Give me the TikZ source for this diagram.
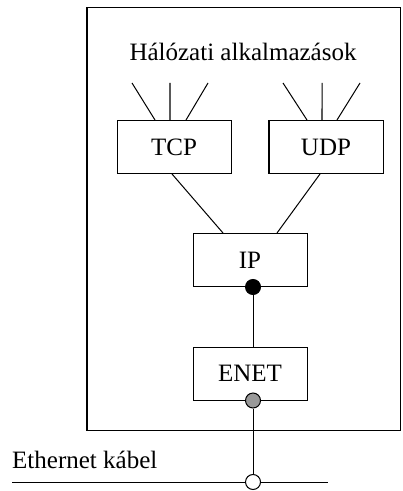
\documentclass[tikz,border=0pt]{standalone}
\usepackage{fontspec}
\setmainfont{Liberation Serif}
\newlength{\du}
\setlength{\du}{15\unitlength}

\begin{document}
\begin{tikzpicture}[
  layerbox/.style={draw, line width=0.067\du, fill=white, inner sep=0pt,
    minimum width=7.6\du, minimum height=3.533\du},
  portdot/.style={circle, draw, line width=0.067\du, inner sep=0pt, minimum size=1\du},
  wire/.style={line width=0.067\du},
  every node/.style={font=\fontsize{25}{30}\selectfont}]
\pgftransformxscale{1.000000}
\pgftransformyscale{-1.000000}
\definecolor{dotgrey}{rgb}{0.600000, 0.600000, 0.600000}
\useasboundingbox (0.000000\du,0.000000\du) rectangle (26.800000\du,32.733000\du);
% host frame
\draw[wire] (5.800000\du,0.467000\du) rectangle (26.700000\du,28.667000\du);
\node[anchor=base] (apps) at (16.200000\du,4.000000\du){Hálózati alkalmazások};
% protocol layers
\node[layerbox] (tcp) at (11.600000\du,9.800000\du){TCP};
\node[layerbox] (udp) at (21.733000\du,9.800000\du){UDP};
\node[layerbox] (ip) at (16.667000\du,17.333000\du){IP};
\node[layerbox] (enet) at (16.667000\du,24.900000\du){ENET};
% application fan-in
\coordinate (tcpa) at (8.800000\du,5.533000\du);
\coordinate (tcpb) at (11.333000\du,5.533000\du);
\coordinate (tcpc) at (13.867000\du,5.533000\du);
\coordinate (udpa) at (18.867000\du,5.533000\du);
\coordinate (udpb) at (21.467000\du,5.533000\du);
\coordinate (udpc) at (24.000000\du,5.533000\du);
\draw[wire] (tcpa)--([xshift=-1.267000\du]tcp.north);
\draw[wire] (tcpb)--([xshift=-0.267000\du]tcp.north);
\draw[wire] (tcpc)--([xshift=0.800000\du]tcp.north);
\draw[wire] (udpa)--([xshift=-1.267000\du]udp.north);
\draw[wire] (udpb)--([xshift=-0.267000\du]udp.north);
\draw[wire] (udpc)--([xshift=0.733000\du]udp.north);
\draw[wire] ([xshift=-0.133000\du]tcp.south)--([xshift=-1.800000\du]ip.north);
\draw[wire] ([xshift=-0.400000\du]udp.south)--([xshift=1.800000\du]ip.north);
% ports
\node[portdot, fill=black] (ipport) at ([xshift=0.200000\du]ip.south){};
\node[portdot, fill=dotgrey] (enetport) at ([xshift=0.200000\du]enet.south){};
\draw[wire] (ipport)--(ipport |- enet.north);
% cable
\node[portdot, fill=white] (tap) at (16.867000\du,32.133000\du){};
\coordinate (cablel) at (0.800000\du,32.133000\du);
\coordinate (cabler) at (21.867000\du,32.133000\du);
\draw[wire] (enetport)--(tap);
\draw[wire] (cablel)--(tap);
\draw[wire] (tap)--(cabler);
\node[anchor=base west, inner sep=0pt] (cable) at (0.800000\du,31.200000\du){Ethernet kábel};
\end{tikzpicture}
\end{document}
